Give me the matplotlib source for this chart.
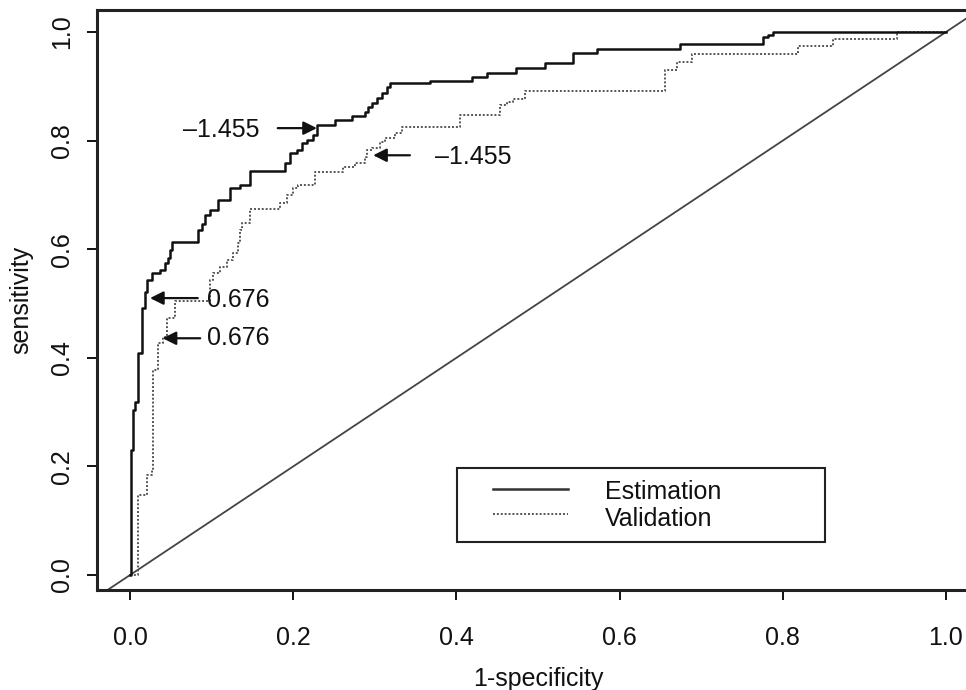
import matplotlib
matplotlib.use("Agg")
import matplotlib.pyplot as plt
from matplotlib.patches import Rectangle
from matplotlib.lines import Line2D

plt.rcParams['font.family'] = ['Liberation Sans', 'DejaVu Sans']

# ROC curve step vertices (1-specificity, sensitivity)
est_fpr = [0.0, 0.001, 0.004, 0.006, 0.010, 0.015, 0.018, 0.021, 0.027, 0.037, 0.043, 0.047,
           0.049, 0.051, 0.083, 0.088, 0.092, 0.098, 0.108, 0.123, 0.135, 0.147, 0.190, 0.196,
           0.205, 0.211, 0.217, 0.224, 0.229, 0.251, 0.272, 0.288, 0.292, 0.297, 0.303, 0.309,
           0.315, 0.319, 0.368, 0.419, 0.438, 0.473, 0.509, 0.543, 0.572, 0.674, 0.776, 0.782,
           0.788, 1.0]
est_tpr = [0.0, 0.230, 0.304, 0.319, 0.409, 0.492, 0.521, 0.543, 0.556, 0.562, 0.575, 0.584,
           0.599, 0.614, 0.635, 0.646, 0.663, 0.672, 0.691, 0.713, 0.718, 0.744, 0.759, 0.777,
           0.783, 0.796, 0.801, 0.810, 0.829, 0.838, 0.845, 0.853, 0.862, 0.869, 0.878, 0.888,
           0.899, 0.906, 0.910, 0.917, 0.924, 0.934, 0.943, 0.961, 0.969, 0.978, 0.991, 0.994,
           1.0, 1.0]

val_fpr = [0.0, 0.010, 0.021, 0.027, 0.028, 0.034, 0.040, 0.045, 0.055, 0.098, 0.102, 0.110,
           0.119, 0.126, 0.132, 0.135, 0.137, 0.147, 0.184, 0.192, 0.200, 0.206, 0.227, 0.261,
           0.276, 0.288, 0.290, 0.297, 0.306, 0.313, 0.325, 0.333, 0.404, 0.453, 0.462, 0.469,
           0.484, 0.656, 0.670, 0.689, 0.819, 0.862, 0.940, 1.0]
val_tpr = [0.0, 0.147, 0.184, 0.193, 0.378, 0.427, 0.438, 0.473, 0.504, 0.543, 0.556, 0.567,
           0.580, 0.593, 0.611, 0.635, 0.648, 0.674, 0.685, 0.700, 0.713, 0.718, 0.742, 0.751,
           0.759, 0.770, 0.783, 0.786, 0.797, 0.805, 0.814, 0.825, 0.847, 0.866, 0.871, 0.877,
           0.891, 0.930, 0.945, 0.959, 0.974, 0.987, 1.0, 1.0]

# cut-off annotations: (label, text x, text y, arrow tail x, arrow tip x, arrow y, ha)
ann_labels = ["\u20131.455", "\u20131.455", "0.676", "0.676"]
ann_text_x = [0.159, 0.374, 0.094, 0.094]
ann_text_y = [0.820, 0.770, 0.506, 0.436]
ann_tail_x = [0.181, 0.343, 0.083, 0.086]
ann_tip_x = [0.229, 0.298, 0.0245, 0.040]
ann_arrow_y = [0.823, 0.773, 0.510, 0.436]
ann_ha = ["right", "left", "left", "left"]

x_ticks = [0.0, 0.2, 0.4, 0.6, 0.8, 1.0]
y_ticks = [0.0, 0.2, 0.4, 0.6, 0.8, 1.0]
legend_labels = ["Estimation", "Validation"]

W, H = 966, 690
fig = plt.figure(figsize=(W / 100, H / 100), dpi=100)
ax = fig.add_axes([97.4 / W, 100 / H, (978.6 - 97.4) / W, (590 - 10.3) / H])
ax.set_xlim(-0.04, 1.04)
ax.set_ylim(-0.0276, 1.04)

ax.axline((0, 0), (1, 1), color='#444444', lw=1.3)
ax.plot(val_fpr, val_tpr, drawstyle='steps-post', color='#555555', lw=1.4,
        linestyle=(0, (1, 1)))
ax.plot(est_fpr, est_tpr, drawstyle='steps-post', color='#111111', lw=1.8)

fs = 18
for lab, tx, ty, ax0, ax1, ay, ha in zip(ann_labels, ann_text_x, ann_text_y,
                                        ann_tail_x, ann_tip_x, ann_arrow_y, ann_ha):
    ax.text(tx, ty, lab, fontsize=fs, ha=ha, va='center', color='#111111')
    ax.annotate('', xy=(ax1, ay), xytext=(ax0, ay),
                arrowprops=dict(arrowstyle='-|>', color='#111111', lw=1.6,
                                mutation_scale=20, shrinkA=0, shrinkB=0))

# legend
def fx(px):
    return (px - 97.4) / (978.6 - 97.4)

def fy(py):
    return (590 - py) / (590 - 10.3)

ax.add_patch(Rectangle((fx(457), fy(542)), fx(825) - fx(457), fy(468) - fy(542),
                       transform=ax.transAxes, fill=False, edgecolor='#222222', lw=1.5))
ax.add_line(Line2D([fx(493), fx(568)], [fy(489), fy(489)], transform=ax.transAxes,
                   color='#333333', lw=1.8))
ax.add_line(Line2D([fx(493), fx(568)], [fy(514), fy(514)], transform=ax.transAxes,
                   color='#555555', lw=1.4, linestyle=(0, (1, 1))))
ax.text(fx(605), fy(492), legend_labels[0], transform=ax.transAxes, fontsize=fs,
        ha='left', va='center', color='#111111')
ax.text(fx(605), fy(519), legend_labels[1], transform=ax.transAxes, fontsize=fs,
        ha='left', va='center', color='#111111')

for s in ax.spines.values():
    s.set_linewidth(2.2)
    s.set_color('#222222')

ax.set_xticks(x_ticks)
ax.set_xticklabels([f"{v:.1f}" for v in x_ticks])
ax.set_yticks(y_ticks)
ax.set_yticklabels([f"{v:.1f}" for v in y_ticks], rotation=90, va='center')
ax.tick_params(axis='x', length=7, width=1.4, pad=19, labelsize=fs, colors='#111111')
ax.tick_params(axis='y', length=7, width=1.4, pad=10, labelsize=fs, colors='#111111')

ax.set_xlabel("1-specificity", fontsize=fs, labelpad=12, color='#111111')
ax.set_ylabel("sensitivity", fontsize=fs, labelpad=12, color='#111111')

fig.savefig("out.png", dpi=100)
